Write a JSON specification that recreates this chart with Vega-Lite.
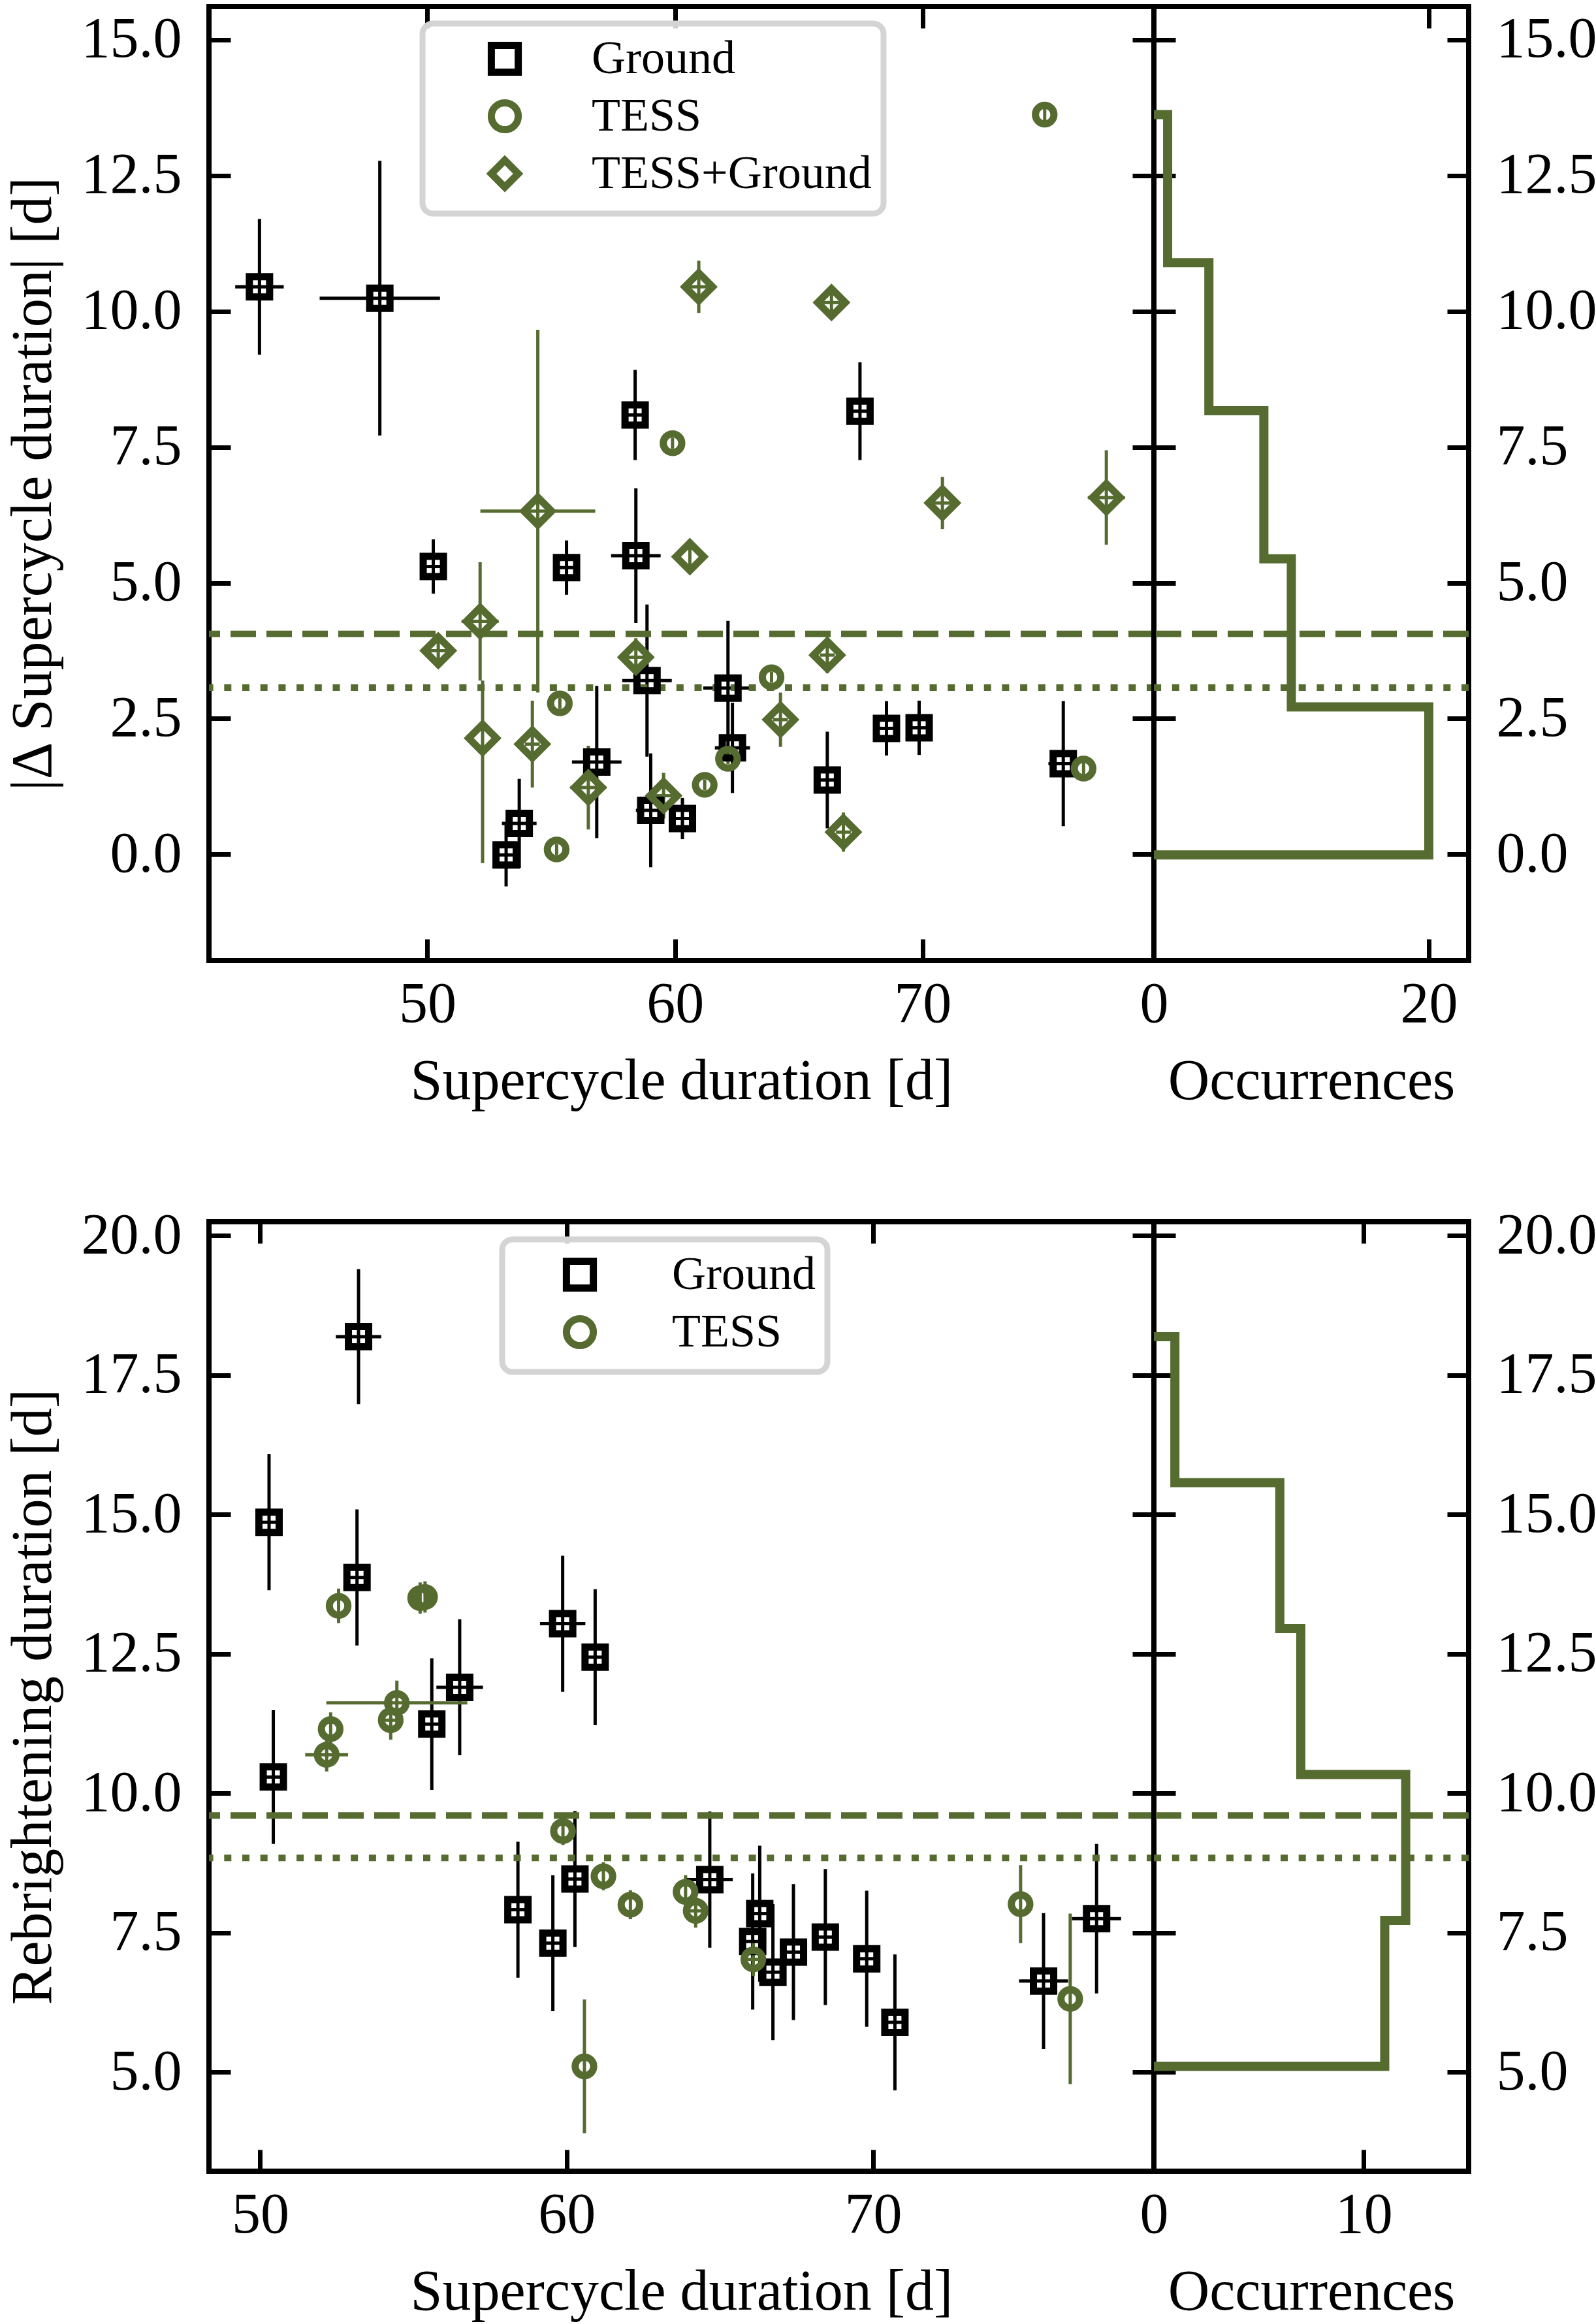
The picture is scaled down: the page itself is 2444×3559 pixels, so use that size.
{
  "$schema": "https://vega.github.io/schema/vega-lite/v6.json",
  "background": "white",
  "padding": {"left": 3, "top": 2, "right": 0, "bottom": 0},
  "config": {
    "font": "Liberation Serif",
    "view": {"stroke": "black", "strokeWidth": 8},
    "axis": {
      "domain": false,
      "grid": false,
      "tickColor": "black",
      "tickWidth": 7,
      "tickSize": -33,
      "labelFont": "Liberation Serif",
      "titleFont": "Liberation Serif",
      "labelFontSize": 88,
      "titleFontSize": 88,
      "labelColor": "black",
      "titleColor": "black",
      "titleFontWeight": "normal",
      "labelFlush": false,
      "labelOverlap": false
    },
    "axisX": {"labelPadding": 56, "titlePadding": 30},
    "axisY": {"labelPadding": 75, "titlePadding": 29},
    "legend": {"strokeWidth": 9, "labelLimit": 1000}
  },
  "datasets": {
    "top": [
      {"s": "Ground", "x": 43.22, "y": 10.45, "xl": 42.24, "xh": 44.2, "yl": 9.2, "yh": 11.7},
      {"s": "Ground", "x": 48.08, "y": 10.24, "xl": 45.65, "xh": 50.51, "yl": 7.71, "yh": 12.77},
      {"s": "Ground", "x": 50.24, "y": 5.3, "xl": 49.89, "xh": 50.59, "yl": 4.8, "yh": 5.8},
      {"s": "Ground", "x": 55.62, "y": 5.28, "xl": 55.27, "xh": 55.97, "yl": 4.78, "yh": 5.78},
      {"s": "Ground", "x": 58.39, "y": 8.09, "xl": 57.94, "xh": 58.84, "yl": 7.26, "yh": 8.92},
      {"s": "Ground", "x": 67.47, "y": 8.16, "xl": 67.12, "xh": 67.82, "yl": 7.26, "yh": 9.06},
      {"s": "Ground", "x": 58.42, "y": 5.5, "xl": 57.42, "xh": 59.42, "yl": 4.26, "yh": 6.74},
      {"s": "Ground", "x": 58.87, "y": 3.2, "xl": 57.87, "xh": 59.87, "yl": 1.8, "yh": 4.6},
      {"s": "Ground", "x": 62.14, "y": 3.06, "xl": 61.14, "xh": 63.14, "yl": 1.82, "yh": 4.3},
      {"s": "Ground", "x": 62.32, "y": 1.96, "xl": 61.61, "xh": 63.03, "yl": 1.13, "yh": 2.79},
      {"s": "Ground", "x": 56.84, "y": 1.7, "xl": 55.84, "xh": 57.84, "yl": 0.3, "yh": 3.1},
      {"s": "Ground", "x": 53.18, "y": -0.01, "xl": 52.83, "xh": 53.53, "yl": -0.59, "yh": 0.57},
      {"s": "Ground", "x": 53.71, "y": 0.57, "xl": 53.01, "xh": 54.41, "yl": -0.25, "yh": 1.39},
      {"s": "Ground", "x": 59.02, "y": 0.81, "xl": 58.42, "xh": 59.62, "yl": -0.24, "yh": 1.86},
      {"s": "Ground", "x": 60.3, "y": 0.66, "xl": 59.95, "xh": 60.65, "yl": 0.28, "yh": 1.04},
      {"s": "Ground", "x": 66.15, "y": 1.37, "xl": 65.8, "xh": 66.5, "yl": 0.48, "yh": 2.26},
      {"s": "Ground", "x": 68.54, "y": 2.32, "xl": 68.19, "xh": 68.89, "yl": 1.82, "yh": 2.82},
      {"s": "Ground", "x": 69.86, "y": 2.33, "xl": 69.51, "xh": 70.21, "yl": 1.83, "yh": 2.83},
      {"s": "Ground", "x": 75.68, "y": 1.67, "xl": 75.08, "xh": 76.28, "yl": 0.52, "yh": 2.82},
      {"s": "TESS", "x": 74.93, "y": 13.62, "xl": 74.93, "xh": 74.93, "yl": 13.5, "yh": 13.74},
      {"s": "TESS", "x": 59.9, "y": 7.57, "xl": 59.9, "xh": 59.9, "yl": 7.47, "yh": 7.67},
      {"s": "TESS", "x": 55.35, "y": 2.78, "xl": 55.35, "xh": 55.35, "yl": 2.68, "yh": 2.88},
      {"s": "TESS", "x": 55.22, "y": 0.09, "xl": 55.22, "xh": 55.22, "yl": -0.01, "yh": 0.19},
      {"s": "TESS", "x": 61.2, "y": 1.28, "xl": 61.2, "xh": 61.2, "yl": 1.18, "yh": 1.38},
      {"s": "TESS", "x": 62.14, "y": 1.76, "xl": 62.14, "xh": 62.14, "yl": 1.66, "yh": 1.86},
      {"s": "TESS", "x": 63.9, "y": 3.26, "xl": 63.9, "xh": 63.9, "yl": 3.16, "yh": 3.36},
      {"s": "TESS", "x": 76.5, "y": 1.58, "xl": 76.5, "xh": 76.5, "yl": 1.43, "yh": 1.73},
      {"s": "TESS+Ground", "x": 60.96, "y": 10.45, "xl": 60.61, "xh": 61.31, "yl": 9.97, "yh": 10.93},
      {"s": "TESS+Ground", "x": 66.32, "y": 10.16, "xl": 65.97, "xh": 66.67, "yl": 9.96, "yh": 10.36},
      {"s": "TESS+Ground", "x": 70.8, "y": 6.47, "xl": 70.45, "xh": 71.15, "yl": 5.99, "yh": 6.95},
      {"s": "TESS+Ground", "x": 77.42, "y": 6.57, "xl": 76.67, "xh": 78.17, "yl": 5.7, "yh": 7.44},
      {"s": "TESS+Ground", "x": 54.46, "y": 6.32, "xl": 52.14, "xh": 56.78, "yl": 2.98, "yh": 9.66},
      {"s": "TESS+Ground", "x": 60.6, "y": 5.48, "xl": 60.6, "xh": 60.6, "yl": 5.28, "yh": 5.68},
      {"s": "TESS+Ground", "x": 50.44, "y": 3.75, "xl": 50.09, "xh": 50.79, "yl": 3.5, "yh": 4.0},
      {"s": "TESS+Ground", "x": 52.13, "y": 4.29, "xl": 51.38, "xh": 52.88, "yl": 3.2, "yh": 5.38},
      {"s": "TESS+Ground", "x": 52.23, "y": 2.14, "xl": 52.23, "xh": 52.23, "yl": -0.16, "yh": 3.2},
      {"s": "TESS+Ground", "x": 54.24, "y": 2.03, "xl": 53.94, "xh": 54.54, "yl": 1.23, "yh": 2.83},
      {"s": "TESS+Ground", "x": 56.5, "y": 1.23, "xl": 55.78, "xh": 57.22, "yl": 0.46, "yh": 2.0},
      {"s": "TESS+Ground", "x": 58.42, "y": 3.63, "xl": 58.07, "xh": 58.77, "yl": 3.28, "yh": 3.98},
      {"s": "TESS+Ground", "x": 59.54, "y": 1.08, "xl": 59.19, "xh": 59.89, "yl": 0.66, "yh": 1.5},
      {"s": "TESS+Ground", "x": 64.26, "y": 2.48, "xl": 63.96, "xh": 64.56, "yl": 1.98, "yh": 2.98},
      {"s": "TESS+Ground", "x": 66.15, "y": 3.67, "xl": 65.85, "xh": 66.45, "yl": 3.34, "yh": 4.0},
      {"s": "TESS+Ground", "x": 66.8, "y": 0.41, "xl": 66.5, "xh": 67.1, "yl": 0.05, "yh": 0.77}
    ],
    "bot": [
      {"s": "Ground", "x": 53.21, "y": 18.19, "xl": 52.47, "xh": 53.95, "yl": 16.98, "yh": 19.4},
      {"s": "Ground", "x": 50.29, "y": 14.86, "xl": 49.99, "xh": 50.59, "yl": 13.64, "yh": 16.08},
      {"s": "Ground", "x": 53.16, "y": 13.87, "xl": 52.86, "xh": 53.46, "yl": 12.65, "yh": 15.09},
      {"s": "Ground", "x": 59.87, "y": 13.04, "xl": 59.13, "xh": 60.61, "yl": 11.82, "yh": 14.26},
      {"s": "Ground", "x": 60.93, "y": 12.44, "xl": 60.63, "xh": 61.23, "yl": 11.22, "yh": 13.66},
      {"s": "Ground", "x": 56.51, "y": 11.9, "xl": 55.75, "xh": 57.27, "yl": 10.68, "yh": 13.12},
      {"s": "Ground", "x": 55.6, "y": 11.24, "xl": 55.3, "xh": 55.9, "yl": 10.06, "yh": 12.42},
      {"s": "Ground", "x": 50.43, "y": 10.29, "xl": 50.13, "xh": 50.73, "yl": 9.09, "yh": 11.49},
      {"s": "Ground", "x": 58.41, "y": 7.91, "xl": 58.11, "xh": 58.71, "yl": 6.69, "yh": 9.13},
      {"s": "Ground", "x": 59.55, "y": 7.31, "xl": 59.25, "xh": 59.85, "yl": 6.09, "yh": 8.53},
      {"s": "Ground", "x": 60.27, "y": 8.46, "xl": 59.97, "xh": 60.57, "yl": 7.24, "yh": 9.68},
      {"s": "Ground", "x": 64.67, "y": 8.45, "xl": 63.92, "xh": 65.42, "yl": 7.23, "yh": 9.67},
      {"s": "Ground", "x": 66.3, "y": 7.84, "xl": 66.0, "xh": 66.6, "yl": 6.62, "yh": 9.06},
      {"s": "Ground", "x": 66.07, "y": 7.34, "xl": 65.77, "xh": 66.37, "yl": 6.12, "yh": 8.56},
      {"s": "Ground", "x": 66.73, "y": 6.79, "xl": 66.43, "xh": 67.03, "yl": 5.57, "yh": 8.01},
      {"s": "Ground", "x": 67.4, "y": 7.15, "xl": 67.1, "xh": 67.7, "yl": 5.93, "yh": 8.37},
      {"s": "Ground", "x": 68.44, "y": 7.42, "xl": 68.14, "xh": 68.74, "yl": 6.2, "yh": 8.64},
      {"s": "Ground", "x": 69.79, "y": 7.03, "xl": 69.49, "xh": 70.09, "yl": 5.81, "yh": 8.25},
      {"s": "Ground", "x": 70.71, "y": 5.89, "xl": 70.41, "xh": 71.01, "yl": 4.67, "yh": 7.11},
      {"s": "Ground", "x": 75.56, "y": 6.63, "xl": 74.76, "xh": 76.36, "yl": 5.41, "yh": 7.85},
      {"s": "Ground", "x": 77.29, "y": 7.75, "xl": 76.49, "xh": 78.09, "yl": 6.41, "yh": 9.09},
      {"s": "TESS", "x": 52.56, "y": 13.36, "xl": 52.56, "xh": 52.56, "yl": 13.05, "yh": 13.67},
      {"s": "TESS", "x": 55.22, "y": 13.5, "xl": 55.22, "xh": 55.22, "yl": 13.22, "yh": 13.78},
      {"s": "TESS", "x": 55.38, "y": 13.52, "xl": 55.38, "xh": 55.38, "yl": 13.24, "yh": 13.8},
      {"s": "TESS", "x": 54.46, "y": 11.62, "xl": 52.16, "xh": 56.76, "yl": 11.22, "yh": 12.02},
      {"s": "TESS", "x": 54.26, "y": 11.31, "xl": 54.06, "xh": 54.46, "yl": 10.96, "yh": 11.66},
      {"s": "TESS", "x": 52.3, "y": 11.15, "xl": 52.3, "xh": 52.3, "yl": 10.85, "yh": 11.45},
      {"s": "TESS", "x": 52.17, "y": 10.69, "xl": 51.47, "xh": 52.87, "yl": 10.39, "yh": 10.99},
      {"s": "TESS", "x": 59.88, "y": 9.32, "xl": 59.88, "xh": 59.88, "yl": 9.07, "yh": 9.57},
      {"s": "TESS", "x": 61.2, "y": 8.51, "xl": 61.2, "xh": 61.2, "yl": 8.26, "yh": 8.76},
      {"s": "TESS", "x": 62.08, "y": 8.0, "xl": 62.08, "xh": 62.08, "yl": 7.74, "yh": 8.26},
      {"s": "TESS", "x": 60.58, "y": 5.1, "xl": 60.58, "xh": 60.58, "yl": 3.9, "yh": 6.3},
      {"s": "TESS", "x": 63.88, "y": 8.23, "xl": 63.88, "xh": 63.88, "yl": 7.93, "yh": 8.53},
      {"s": "TESS", "x": 64.21, "y": 7.89, "xl": 64.01, "xh": 64.41, "yl": 7.59, "yh": 8.19},
      {"s": "TESS", "x": 66.09, "y": 7.02, "xl": 65.89, "xh": 66.29, "yl": 6.72, "yh": 7.32},
      {"s": "TESS", "x": 74.81, "y": 8.01, "xl": 74.81, "xh": 74.81, "yl": 7.31, "yh": 8.71},
      {"s": "TESS", "x": 76.43, "y": 6.31, "xl": 76.43, "xh": 76.43, "yl": 4.78, "yh": 7.84}
    ],
    "topHist": [
      {"i": 0, "c": 0, "e": -0.01}, {"i": 1, "c": 20, "e": -0.01},
      {"i": 2, "c": 20, "e": 2.716}, {"i": 3, "c": 10, "e": 2.716},
      {"i": 4, "c": 10, "e": 5.442}, {"i": 5, "c": 8, "e": 5.442},
      {"i": 6, "c": 8, "e": 8.168}, {"i": 7, "c": 4, "e": 8.168},
      {"i": 8, "c": 4, "e": 10.894}, {"i": 9, "c": 1, "e": 10.894},
      {"i": 10, "c": 1, "e": 13.62}, {"i": 11, "c": 0, "e": 13.62}
    ],
    "botHist": [
      {"i": 0, "c": 0, "e": 5.1}, {"i": 1, "c": 11, "e": 5.1},
      {"i": 2, "c": 11, "e": 7.718}, {"i": 3, "c": 12, "e": 7.718},
      {"i": 4, "c": 12, "e": 10.336}, {"i": 5, "c": 7, "e": 10.336},
      {"i": 6, "c": 7, "e": 12.954}, {"i": 7, "c": 6, "e": 12.954},
      {"i": 8, "c": 6, "e": 15.572}, {"i": 9, "c": 1, "e": 15.572},
      {"i": 10, "c": 1, "e": 18.19}, {"i": 11, "c": 0, "e": 18.19}
    ],
    "topLines": [{"k": "mean", "y": 4.06}, {"k": "median", "y": 3.07}],
    "botLines": [{"k": "mean", "y": 9.6}, {"k": "median", "y": 8.84}]
  },
  "spacing": 140,
  "vconcat": [
    {
      "bounds": "flush",
      "spacing": 0,
      "hconcat": [
        {
          "width": 1447,
          "height": 1461,
          "layer": [
            {
              "data": {"name": "top"},
              "mark": {"type": "rule", "strokeWidth": 5},
              "encoding": {
                "x": {"field": "x", "type": "quantitative", "scale": {"domain": [41.18, 79.34], "nice": false, "zero": false},
                  "axis": {"orient": "bottom", "values": [50, 60, 70], "title": "Supercycle duration [d]"}},
                "y": {"field": "yl", "type": "quantitative", "scale": {"domain": [-1.955, 15.61], "nice": false, "zero": false},
                  "axis": {"orient": "left", "values": [0, 2.5, 5, 7.5, 10, 12.5, 15], "format": ".1f", "title": "|Δ Supercycle duration| [d]"}},
                "y2": {"field": "yh"},
                "stroke": {"field": "s", "type": "nominal", "scale": {"domain": ["TESS+Ground", "TESS", "Ground"], "range": ["#556B2F", "#556B2F", "black"]}, "legend": null}
              }
            },
            {
              "data": {"name": "top"},
              "mark": {"type": "rule", "strokeWidth": 5},
              "encoding": {
                "x": {"field": "xl", "type": "quantitative", "axis": {"orient": "top", "values": [50, 60, 70], "labels": false, "title": null}},
                "x2": {"field": "xh"},
                "y": {"field": "y", "type": "quantitative", "axis": {"orient": "right", "values": [0, 2.5, 5, 7.5, 10, 12.5, 15], "labels": false, "title": null}},
                "stroke": {"field": "s", "type": "nominal", "legend": null}
              }
            },
            {
              "data": {"name": "topLines"},
              "mark": {"type": "rule", "strokeWidth": 10, "color": "#556B2F", "strokeCap": "butt"},
              "encoding": {
                "y": {"field": "y", "type": "quantitative", "axis": null},
                "strokeDash": {"field": "k", "type": "nominal", "scale": {"domain": ["mean", "median"], "range": [[39, 16], [11, 16.7]]}, "legend": null}
              }
            },
            {
              "data": {"name": "top"},
              "mark": {"type": "point", "filled": false, "strokeWidth": 11, "opacity": 1},
              "encoding": {
                "x": {"field": "x", "type": "quantitative", "axis": null},
                "y": {"field": "y", "type": "quantitative", "axis": null},
                "shape": {"field": "s", "type": "nominal", "scale": {"domain": ["Ground", "TESS", "TESS+Ground"], "range": ["square", "circle", "diamond"]},
                  "legend": {"title": null, "orient": "none", "legendX": 327, "legendY": 26, "labelFontSize": 72, "labelColor": "black", "labelFont": "Liberation Serif", "symbolSize": 1700, "symbolStrokeWidth": 11, "fillColor": "rgba(255,255,255,0.8)", "strokeColor": "#d4d4d4", "cornerRadius": 16, "padding": 18, "rowPadding": 2, "labelOffset": 97, "symbolOffset": 72}},
                "color": {"field": "s", "type": "nominal", "scale": {"domain": ["Ground", "TESS", "TESS+Ground"], "range": ["black", "#556B2F", "#556B2F"]},
                  "legend": {"title": null, "orient": "none", "legendX": 327, "legendY": 26, "labelFontSize": 72, "labelColor": "black", "labelFont": "Liberation Serif", "symbolSize": 1700, "symbolStrokeWidth": 11, "fillColor": "rgba(255,255,255,0.8)", "strokeColor": "#d4d4d4", "cornerRadius": 16, "padding": 18, "rowPadding": 2, "labelOffset": 97, "symbolOffset": 72}},
                "size": {"field": "s", "type": "nominal", "scale": {"type": "ordinal", "domain": ["TESS+Ground", "TESS", "Ground"], "range": [1800, 804, 961]}, "legend": null}
              }
            }
          ],
          "resolve": {"axis": {"x": "independent", "y": "independent"}}
        },
        {
          "width": 482,
          "height": 1461,
          "layer": [
            {
              "data": {"name": "topHist"},
              "mark": {"type": "line", "strokeWidth": 14, "color": "#556B2F", "strokeJoin": "miter", "strokeCap": "butt"},
              "encoding": {
                "x": {"field": "c", "type": "quantitative", "scale": {"domain": [0, 22.9], "nice": false}, "axis": {"orient": "bottom", "values": [0, 20], "title": "Occurrences"}},
                "y": {"field": "e", "type": "quantitative", "scale": {"domain": [-1.955, 15.61], "nice": false, "zero": false},
                  "axis": {"orient": "right", "values": [0, 2.5, 5, 7.5, 10, 12.5, 15], "format": ".1f", "title": null}},
                "order": {"field": "i", "type": "quantitative"}
              }
            },
            {
              "data": {"name": "topHist"},
              "mark": {"type": "line", "strokeWidth": 14, "color": "#556B2F", "strokeJoin": "miter", "strokeCap": "butt", "strokeOpacity": 0},
              "encoding": {
                "x": {"field": "c", "type": "quantitative", "axis": {"orient": "top", "values": [0, 20], "labels": false, "title": null}},
                "y": {"field": "e", "type": "quantitative", "axis": {"orient": "left", "values": [0, 2.5, 5, 7.5, 10, 12.5, 15], "labels": false, "title": null}},
                "order": {"field": "i", "type": "quantitative"}
              }
            },
            {
              "data": {"name": "topLines"},
              "mark": {"type": "rule", "strokeWidth": 10, "color": "#556B2F", "strokeCap": "butt"},
              "encoding": {
                "y": {"field": "y", "type": "quantitative", "axis": null},
                "strokeDash": {"field": "k", "type": "nominal", "scale": {"domain": ["mean", "median"], "range": [[39, 16], [11, 16.7]]}, "legend": null}
              }
            }
          ],
          "resolve": {"axis": {"x": "independent", "y": "independent"}}
        }
      ],
      "resolve": {"scale": {"color": "independent", "shape": "independent", "size": "independent", "stroke": "independent", "strokeDash": "independent"}}
    },
    {
      "bounds": "flush",
      "spacing": 0,
      "hconcat": [
        {
          "width": 1447,
          "height": 1454,
          "layer": [
            {
              "data": {"name": "bot"},
              "mark": {"type": "rule", "strokeWidth": 5},
              "encoding": {
                "x": {"field": "x", "type": "quantitative", "scale": {"domain": [48.33, 79.16], "nice": false, "zero": false},
                  "axis": {"orient": "bottom", "values": [50, 60, 70], "title": "Supercycle duration [d]"}},
                "y": {"field": "yl", "type": "quantitative", "scale": {"domain": [3.22, 20.25], "nice": false, "zero": false},
                  "axis": {"orient": "left", "values": [5, 7.5, 10, 12.5, 15, 17.5, 20], "format": ".1f", "title": "Rebrightening duration [d]"}},
                "y2": {"field": "yh"},
                "stroke": {"field": "s", "type": "nominal", "scale": {"domain": ["TESS", "Ground"], "range": ["#556B2F", "black"]}, "legend": null}
              }
            },
            {
              "data": {"name": "bot"},
              "mark": {"type": "rule", "strokeWidth": 5},
              "encoding": {
                "x": {"field": "xl", "type": "quantitative", "axis": {"orient": "top", "values": [50, 60, 70], "labels": false, "title": null}},
                "x2": {"field": "xh"},
                "y": {"field": "y", "type": "quantitative", "axis": {"orient": "right", "values": [5, 7.5, 10, 12.5, 15, 17.5, 20], "labels": false, "title": null}},
                "stroke": {"field": "s", "type": "nominal", "legend": null}
              }
            },
            {
              "data": {"name": "botLines"},
              "mark": {"type": "rule", "strokeWidth": 10, "color": "#556B2F", "strokeCap": "butt"},
              "encoding": {
                "y": {"field": "y", "type": "quantitative", "axis": null},
                "strokeDash": {"field": "k", "type": "nominal", "scale": {"domain": ["mean", "median"], "range": [[39, 16], [11, 16.7]]}, "legend": null}
              }
            },
            {
              "data": {"name": "bot"},
              "mark": {"type": "point", "filled": false, "strokeWidth": 11, "opacity": 1},
              "encoding": {
                "x": {"field": "x", "type": "quantitative", "axis": null},
                "y": {"field": "y", "type": "quantitative", "axis": null},
                "shape": {"field": "s", "type": "nominal", "scale": {"domain": ["Ground", "TESS"], "range": ["square", "circle"]},
                  "legend": {"title": null, "orient": "none", "legendX": 449, "legendY": 27, "labelFontSize": 72, "labelColor": "black", "labelFont": "Liberation Serif", "symbolSize": 1700, "symbolStrokeWidth": 11, "fillColor": "rgba(255,255,255,0.8)", "strokeColor": "#d4d4d4", "cornerRadius": 16, "padding": 18, "rowPadding": 2, "labelOffset": 105, "symbolOffset": 65}},
                "color": {"field": "s", "type": "nominal", "scale": {"domain": ["Ground", "TESS"], "range": ["black", "#556B2F"]},
                  "legend": {"title": null, "orient": "none", "legendX": 449, "legendY": 27, "labelFontSize": 72, "labelColor": "black", "labelFont": "Liberation Serif", "symbolSize": 1700, "symbolStrokeWidth": 11, "fillColor": "rgba(255,255,255,0.8)", "strokeColor": "#d4d4d4", "cornerRadius": 16, "padding": 18, "rowPadding": 2, "labelOffset": 105, "symbolOffset": 65}},
                "size": {"field": "s", "type": "nominal", "scale": {"type": "ordinal", "domain": ["TESS", "Ground"], "range": [804, 961]}, "legend": null}
              }
            }
          ],
          "resolve": {"axis": {"x": "independent", "y": "independent"}}
        },
        {
          "width": 482,
          "height": 1454,
          "layer": [
            {
              "data": {"name": "botHist"},
              "mark": {"type": "line", "strokeWidth": 14, "color": "#556B2F", "strokeJoin": "miter", "strokeCap": "butt"},
              "encoding": {
                "x": {"field": "c", "type": "quantitative", "scale": {"domain": [0, 15], "nice": false}, "axis": {"orient": "bottom", "values": [0, 10], "title": "Occurrences"}},
                "y": {"field": "e", "type": "quantitative", "scale": {"domain": [3.22, 20.25], "nice": false, "zero": false},
                  "axis": {"orient": "right", "values": [5, 7.5, 10, 12.5, 15, 17.5, 20], "format": ".1f", "title": null}},
                "order": {"field": "i", "type": "quantitative"}
              }
            },
            {
              "data": {"name": "botHist"},
              "mark": {"type": "line", "strokeWidth": 14, "color": "#556B2F", "strokeJoin": "miter", "strokeCap": "butt", "strokeOpacity": 0},
              "encoding": {
                "x": {"field": "c", "type": "quantitative", "axis": {"orient": "top", "values": [0, 10], "labels": false, "title": null}},
                "y": {"field": "e", "type": "quantitative", "axis": {"orient": "left", "values": [5, 7.5, 10, 12.5, 15, 17.5, 20], "labels": false, "title": null}},
                "order": {"field": "i", "type": "quantitative"}
              }
            },
            {
              "data": {"name": "botLines"},
              "mark": {"type": "rule", "strokeWidth": 10, "color": "#556B2F", "strokeCap": "butt"},
              "encoding": {
                "y": {"field": "y", "type": "quantitative", "axis": null},
                "strokeDash": {"field": "k", "type": "nominal", "scale": {"domain": ["mean", "median"], "range": [[39, 16], [11, 16.7]]}, "legend": null}
              }
            }
          ],
          "resolve": {"axis": {"x": "independent", "y": "independent"}}
        }
      ],
      "resolve": {"scale": {"color": "independent", "shape": "independent", "size": "independent", "stroke": "independent", "strokeDash": "independent"}}
    }
  ],
  "resolve": {"scale": {"color": "independent", "shape": "independent", "size": "independent", "stroke": "independent", "strokeDash": "independent", "x": "independent", "y": "independent"}}
}
